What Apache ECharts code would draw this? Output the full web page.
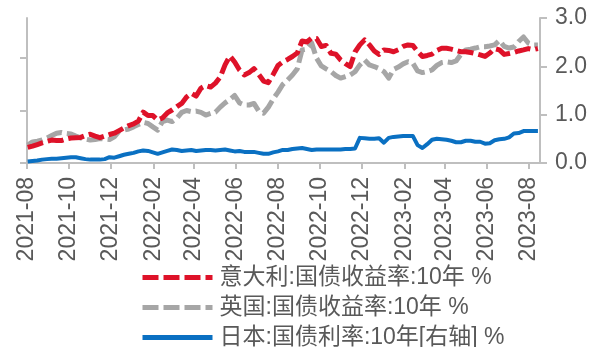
<!DOCTYPE html>
<html>
<head>
<meta charset="utf-8">
<script src="https://cdn.jsdelivr.net/npm/echarts@6/dist/echarts.min.js"></script>
<style>
  html, body { margin: 0; padding: 0; background: #fff; }
  #chart { width: 609px; height: 347px; }
</style>
</head>
<body>
<div id="chart"></div>
<script>
// Weekly observations, first week starting 2021-08-02
const firstWeek = [2021, 7, 2];
const weekCount = 107;

// Tick labels on the date axis (every second month)
const tickMonths = ['2021-08', '2021-10', '2021-12', '2022-02', '2022-04', '2022-06', '2022-08',
  '2022-10', '2022-12', '2023-02', '2023-04', '2023-06', '2023-08'];

const seriesNames = ['意大利:国债收益率:10年 %', '英国:国债收益率:10年 %', '日本:国债利率:10年[右轴] %'];

// Italy 10Y government bond yield, %
const italy = [
  0.59, 0.64, 0.70, 0.76, 0.82, 0.87, 0.85, 0.85, 0.91, 0.95,
  0.96, 0.97, 1.04, 1.09, 1.02, 0.96, 1.02, 1.08, 1.13, 1.23,
  1.33, 1.42, 1.48, 1.59, 1.93, 1.80, 1.80, 1.63, 1.71, 1.90,
  2.01, 2.14, 2.26, 2.50, 2.64, 2.54, 2.84, 2.94, 2.88, 3.03,
  3.26, 3.72, 4.06, 3.83, 3.53, 3.34, 3.43, 3.58, 3.36, 3.11,
  3.05, 3.36, 3.70, 3.84, 3.93, 4.04, 4.17, 4.63, 4.59, 4.74,
  4.72, 4.42, 4.46, 4.16, 4.13, 3.91, 3.77, 3.66, 4.21, 4.48,
  4.67, 4.48, 4.25, 4.12, 4.29, 4.27, 4.22, 4.30, 4.42, 4.48,
  4.46, 4.23, 4.04, 4.08, 4.13, 4.27, 4.35, 4.35, 4.32, 4.27,
  4.22, 4.22, 4.19, 4.15, 4.10, 4.04, 4.17, 4.34, 4.29, 4.12,
  4.15, 4.19, 4.25, 4.29, 4.34, 4.30, 4.34
];

// UK 10Y gilt yield, %
const uk = [
  0.68, 0.80, 0.83, 0.87, 0.95, 1.04, 1.13, 1.16, 1.12, 1.10,
  1.02, 0.95, 0.91, 0.87, 0.89, 0.93, 0.91, 0.89, 0.99, 1.21,
  1.25, 1.29, 1.37, 1.46, 1.54, 1.50, 1.37, 1.25, 1.57, 1.63,
  1.57, 1.70, 1.92, 1.99, 1.95, 1.97, 1.92, 1.82, 1.88, 1.93,
  2.12, 2.28, 2.41, 2.56, 2.28, 2.20, 2.20, 2.26, 1.97, 1.89,
  2.12, 2.43, 2.69, 2.98, 3.15, 3.34, 3.57, 4.29, 4.32, 4.55,
  3.98, 3.68, 3.57, 3.47, 3.32, 3.22, 3.28, 3.34, 3.46, 3.72,
  3.91, 3.72, 3.66, 3.58, 3.47, 3.22, 3.55, 3.64, 3.76, 3.84,
  3.79, 3.49, 3.43, 3.47, 3.53, 3.70, 3.81, 3.84, 3.81, 3.87,
  4.12, 4.29, 4.32, 4.36, 4.41, 4.41, 4.44, 4.48, 4.65, 4.42,
  4.36, 4.40, 4.61, 4.78, 4.55, 4.48, 4.48
];

// Japan 10Y JGB yield, % (right axis)
const japan = [
  0.03, 0.04, 0.05, 0.07, 0.08, 0.09, 0.09, 0.10, 0.11, 0.12,
  0.12, 0.10, 0.08, 0.07, 0.07, 0.07, 0.08, 0.12, 0.11, 0.14,
  0.17, 0.19, 0.21, 0.24, 0.26, 0.25, 0.22, 0.19, 0.22, 0.25,
  0.28, 0.27, 0.25, 0.26, 0.27, 0.25, 0.26, 0.27, 0.27, 0.26,
  0.27, 0.28, 0.26, 0.24, 0.25, 0.23, 0.23, 0.23, 0.21, 0.19,
  0.19, 0.22, 0.24, 0.27, 0.27, 0.29, 0.30, 0.31, 0.29, 0.27,
  0.28, 0.28, 0.28, 0.28, 0.28, 0.28, 0.29, 0.29, 0.30, 0.52,
  0.51, 0.50, 0.50, 0.51, 0.42, 0.52, 0.54, 0.55, 0.56, 0.56,
  0.56, 0.37, 0.31, 0.39, 0.48, 0.50, 0.49, 0.48, 0.46, 0.43,
  0.43, 0.46, 0.46, 0.44, 0.44, 0.40, 0.41, 0.47, 0.49, 0.50,
  0.53, 0.61, 0.62, 0.66, 0.66, 0.66, 0.66
];

const weeks = [];
for (let k = 0; k < weekCount; k++) {
  weeks.push(new Date(firstWeek[0], firstWeek[1], firstWeek[2] + 7 * k).getTime());
}
const pairs = vals => vals.map((v, i) => [weeks[i], v]);
const monthTicks = tickMonths.map(s => {
  const [y, m] = s.split('-').map(Number);
  return new Date(y, m - 1, 1).getTime();
});
const monthLabel = v => {
  const d = new Date(v);
  return d.getFullYear() + '-' + String(d.getMonth() + 1).padStart(2, '0');
};

const FONT = '"Liberation Sans", Arial, "Noto Sans CJK SC", sans-serif';
const TEXT = '#595959';
const AXIS = '#bfbfbf';
const DASH = [16, 5];

const chart = echarts.init(document.getElementById('chart'), null, { renderer: 'canvas' });
chart.setOption({
  animation: false,
  backgroundColor: '#fff',
  textStyle: { fontFamily: FONT },
  grid: { left: 27, right: 69, top: 18, bottom: 184, containLabel: false },
  legend: {
    orient: 'vertical',
    left: 140,
    top: 266,
    width: 460,
    height: 120,
    padding: 0,
    itemWidth: 70,
    itemHeight: 10,
    itemGap: 7,
    data: seriesNames,
    itemStyle: { opacity: 0 },
    lineStyle: { width: 5 },
    textStyle: { fontSize: 23, color: TEXT, fontFamily: FONT, padding: [0, 0, 0, 2] }
  },
  xAxis: {
    // dates as millisecond timestamps on a linear axis
    type: 'value',
    min: new Date(2021, 7, 1).getTime(),
    max: new Date(2023, 7, 17).getTime(),
    axisLine: { show: true, onZero: false, lineStyle: { color: AXIS, width: 2 } },
    axisTick: { show: true, length: 6, customValues: monthTicks, lineStyle: { color: AXIS, width: 2 } },
    axisLabel: {
      customValues: monthTicks,
      rotate: 90,
      margin: 14,
      fontSize: 23,
      color: TEXT,
      fontFamily: FONT,
      formatter: monthLabel
    },
    splitLine: { show: false }
  },
  yAxis: [
    {
      type: 'value',
      position: 'left',
      min: 0,
      max: 5.5,
      axisLine: { show: true, lineStyle: { color: AXIS, width: 2 } },
      axisTick: { show: true, length: 7, customValues: [0, 2, 4], lineStyle: { color: AXIS, width: 2 } },
      axisLabel: { show: false },
      splitLine: { show: false }
    },
    {
      type: 'value',
      position: 'right',
      min: 0,
      max: 3,
      interval: 1,
      axisLine: { show: true, lineStyle: { color: AXIS, width: 2 } },
      axisTick: { show: true, length: 7, lineStyle: { color: AXIS, width: 2 } },
      axisLabel: {
        margin: 15,
        fontSize: 23,
        color: TEXT,
        fontFamily: FONT,
        formatter: v => v.toFixed(1)
      },
      splitLine: { show: false }
    }
  ],
  series: [
    {
      name: seriesNames[0],
      type: 'line',
      yAxisIndex: 0,
      data: pairs(italy),
      symbol: 'none',
      color: '#DE1229',
      lineStyle: { width: 5, type: DASH, join: 'round' },
      z: 3
    },
    {
      name: seriesNames[1],
      type: 'line',
      yAxisIndex: 0,
      data: pairs(uk),
      symbol: 'none',
      color: '#A6A6A6',
      lineStyle: { width: 5, type: DASH, join: 'round' },
      z: 2
    },
    {
      name: seriesNames[2],
      type: 'line',
      yAxisIndex: 1,
      data: pairs(japan),
      symbol: 'none',
      color: '#0A70C2',
      lineStyle: { width: 4, type: 'solid', join: 'round' },
      z: 4
    }
  ]
});
</script>
</body>
</html>
